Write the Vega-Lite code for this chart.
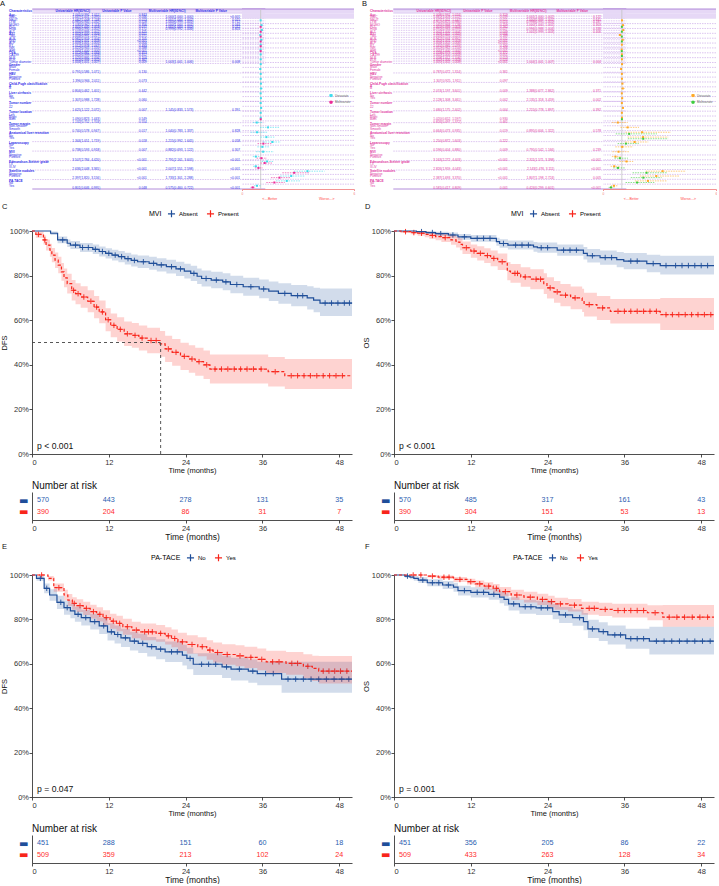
{
"$schema":"https://vega.github.io/schema/vega-lite/v6.json",
"background":"white",
"padding":{"left":0,"top":0,"right":0,"bottom":0},
"config":{"font":"Liberation Sans","view":{"stroke":null},
 "axis":{"grid":false,"domainColor":"#222","tickColor":"#222","labelColor":"#333","titleColor":"#111","titleFontWeight":"normal","domainWidth":0.8,"tickWidth":0.8},
 "title":{"fontWeight":"normal","color":"#111"},
 "legend":{"titleFontWeight":"normal"}},
"resolve":{"scale":{"color":"independent","strokeDash":"independent"},"legend":{"color":"independent"}},
"columns":1,"align":"none","spacing":1,
"datasets":{
"tab":[
{"p":"A","r":1,"k":"h","c":"Characteristics","a":"Univariable HR(95%CI)","b":"Univariable P Value","d":"Multivariable HR(95%CI)","e":"Multivariable P Value"},
{"p":"A","r":2,"k":"h"},
{"p":"A","r":3,"k":"v","l":1,"c":"Age","a":"1.001(0.991, 1.011)","b":"0.843","u":1.001,"ul":0.991,"uh":1.011},
{"p":"A","r":4,"k":"v","l":1,"c":"WBC","a":"1.047(1.001, 1.095)","b":"0.046","d":"1.000(1.000, 1.000)","e":"<0.001","u":1.047,"ul":1.001,"uh":1.095,"m":1.0,"ml":1.0,"mh":1.0},
{"p":"A","r":5,"k":"v","l":1,"c":"NEUT","a":"1.062(1.008, 1.118)","b":"0.023","d":"1.001(1.000, 1.002)","e":"0.015","u":1.062,"ul":1.008,"uh":1.118,"m":1.001,"ml":1.0,"mh":1.002},
{"p":"A","r":6,"k":"v","l":1,"c":"LYM","a":"0.985(0.940, 1.032)","b":"0.528","d":"1.000(0.999, 1.001)","e":"0.712","u":0.985,"ul":0.94,"uh":1.032,"m":1.0,"ml":0.999,"mh":1.001},
{"p":"A","r":7,"k":"v","l":1,"c":"MONO","a":"1.035(0.962, 1.113)","b":"0.356","d":"1.000(1.000, 1.001)","e":"0.044","u":1.035,"ul":0.962,"uh":1.113,"m":1.0,"ml":1.0,"mh":1.001},
{"p":"A","r":8,"k":"v","l":1,"c":"PLT","a":"1.001(1.000, 1.003)","b":"0.077","d":"1.001(1.000, 1.002)","e":"0.112","u":1.001,"ul":1.0,"uh":1.003,"m":1.001,"ml":1.0,"mh":1.002},
{"p":"A","r":9,"k":"v","l":1,"c":"HGB","a":"0.996(0.990, 1.002)","b":"0.172","d":"0.999(0.992, 1.006)","e":"0.803","u":0.996,"ul":0.99,"uh":1.002,"m":0.999,"ml":0.992,"mh":1.006},
{"p":"A","r":10,"k":"v","l":1,"c":"ALT","a":"1.001(0.999, 1.002)","b":"0.425","u":1.001,"ul":0.999,"uh":1.002},
{"p":"A","r":11,"k":"v","l":1,"c":"AST","a":"1.002(1.000, 1.004)","b":"0.021","u":1.002,"ul":1.0,"uh":1.004},
{"p":"A","r":12,"k":"v","l":1,"c":"TBIL","a":"1.004(0.991, 1.017)","b":"0.571","u":1.004,"ul":0.991,"uh":1.017},
{"p":"A","r":13,"k":"v","l":1,"c":"ALB","a":"0.981(0.959, 1.004)","b":"0.105","u":0.981,"ul":0.959,"uh":1.004},
{"p":"A","r":14,"k":"v","l":1,"c":"GGT","a":"1.002(1.001, 1.003)","b":"<0.001","u":1.002,"ul":1.001,"uh":1.003},
{"p":"A","r":15,"k":"v","l":1,"c":"ALP","a":"1.003(1.001, 1.005)","b":"0.004","u":1.003,"ul":1.001,"uh":1.005},
{"p":"A","r":16,"k":"v","l":1,"c":"PT","a":"1.012(0.978, 1.047)","b":"0.493","u":1.012,"ul":0.978,"uh":1.047},
{"p":"A","r":17,"k":"v","l":1,"c":"INR","a":"1.022(0.945, 1.105)","b":"0.588","u":1.022,"ul":0.945,"uh":1.105},
{"p":"A","r":18,"k":"v","l":1,"c":"AFP","a":"1.000(1.000, 1.000)","b":"<0.001","u":1.0,"ul":1.0,"uh":1.0},
{"p":"A","r":19,"k":"v","l":1,"c":"CEA","a":"1.012(0.981, 1.044)","b":"0.453","u":1.012,"ul":0.981,"uh":1.044},
{"p":"A","r":20,"k":"v","l":1,"c":"CA199","a":"1.001(0.999, 1.003)","b":"0.312","u":1.001,"ul":0.999,"uh":1.003},
{"p":"A","r":21,"k":"v","l":1,"c":"NLR","a":"1.025(0.995, 1.056)","b":"0.104","u":1.025,"ul":0.995,"uh":1.056},
{"p":"A","r":22,"k":"v","l":1,"c":"PLR","a":"1.001(0.999, 1.002)","b":"0.367","u":1.001,"ul":0.999,"uh":1.002},
{"p":"A","r":23,"k":"v","l":1,"c":"Tumor diameter","a":"1.004(1.001, 1.007)","b":"0.009","d":"1.003(1.001, 1.006)","e":"0.008","u":1.004,"ul":1.001,"uh":1.007,"m":1.003,"ml":1.001,"mh":1.006},
{"p":"A","r":24,"k":"g","c":"Gender"},
{"p":"A","r":25,"k":"s","c":"Male"},
{"p":"A","r":26,"k":"s","c":"Female"},
{"p":"A","r":27,"k":"x","l":1,"a":"0.791(0.586, 1.071)","b":"0.130","u":0.791,"ul":0.586,"uh":1.071},
{"p":"A","r":28,"k":"g","c":"HBV"},
{"p":"A","r":29,"k":"s","c":"Negative"},
{"p":"A","r":30,"k":"s","c":"Positive"},
{"p":"A","r":31,"k":"x","l":1,"a":"1.396(0.966, 2.011)","b":"0.073","u":1.396,"ul":0.966,"uh":2.011},
{"p":"A","r":32,"k":"g","c":"Child-Pugh classification"},
{"p":"A","r":33,"k":"s","c":"A"},
{"p":"A","r":34,"k":"s","c":"B"},
{"p":"A","r":35,"k":"x","l":1,"a":"0.804(0.462, 1.401)","b":"0.442","u":0.804,"ul":0.462,"uh":1.401},
{"p":"A","r":36,"k":"g","c":"Liver cirrhosis"},
{"p":"A","r":37,"k":"s","c":"No"},
{"p":"A","r":38,"k":"s","c":"Yes"},
{"p":"A","r":39,"k":"x","l":1,"a":"1.307(0.988, 1.728)","b":"0.060","u":1.307,"ul":0.988,"uh":1.728},
{"p":"A","r":40,"k":"g","c":"Tumor number"},
{"p":"A","r":41,"k":"s","c":"1"},
{"p":"A","r":42,"k":"s","c":"≥2"},
{"p":"A","r":43,"k":"x","l":1,"a":"1.625(1.122, 2.072)","b":"0.007","d":"1.145(0.833, 1.573)","e":"0.391","u":1.625,"ul":1.122,"uh":2.072,"m":1.145,"ml":0.833,"mh":1.573},
{"p":"A","r":44,"k":"g","c":"Tumor location"},
{"p":"A","r":45,"k":"s","c":"Left"},
{"p":"A","r":46,"k":"s","c":"Right"},
{"p":"A","r":47,"k":"s","c":"Both","a":"1.090(0.823, 1.443)","b":"0.549","u":1.09,"ul":0.823,"uh":1.443},
{"p":"A","r":48,"k":"x","l":1,"a":"1.132(0.752, 1.703)","b":"0.554","u":1.132,"ul":0.752,"uh":1.703},
{"p":"A","r":49,"k":"g","c":"Tumor margin"},
{"p":"A","r":50,"k":"s","c":"Non-smooth"},
{"p":"A","r":51,"k":"s","c":"Smooth"},
{"p":"A","r":52,"k":"x","l":1,"a":"0.740(0.578, 0.947)","b":"0.017","d":"1.040(0.783, 1.337)","e":"0.828","u":0.74,"ul":0.578,"uh":0.947,"m":1.04,"ml":0.783,"mh":1.337},
{"p":"A","r":53,"k":"g","c":"Anatomical liver resection"},
{"p":"A","r":54,"k":"s","c":"No"},
{"p":"A","r":55,"k":"s","c":"Yes"},
{"p":"A","r":56,"k":"x","l":1,"a":"1.344(1.051, 1.719)","b":"0.018","d":"1.215(0.992, 1.645)","e":"0.058","u":1.344,"ul":1.051,"uh":1.719,"m":1.215,"ml":0.992,"mh":1.645},
{"p":"A","r":57,"k":"g","c":"Laparoscopy"},
{"p":"A","r":58,"k":"s","c":"No"},
{"p":"A","r":59,"k":"s","c":"Yes"},
{"p":"A","r":60,"k":"x","l":1,"a":"0.738(0.593, 0.918)","b":"0.007","d":"0.882(0.693, 1.122)","e":"0.307","u":0.738,"ul":0.593,"uh":0.918,"m":0.882,"ml":0.693,"mh":1.122},
{"p":"A","r":61,"k":"g","c":"MVI"},
{"p":"A","r":62,"k":"s","c":"Negative"},
{"p":"A","r":63,"k":"s","c":"Positive"},
{"p":"A","r":64,"k":"x","l":1,"a":"3.507(2.784, 4.420)","b":"<0.001","d":"2.791(2.161, 3.605)","e":"<0.001","u":3.507,"ul":2.784,"uh":4.42,"m":2.791,"ml":2.161,"mh":3.605},
{"p":"A","r":65,"k":"g","c":"Edmondson-Steiner grade"},
{"p":"A","r":66,"k":"s","c":"I-II"},
{"p":"A","r":67,"k":"s","c":"III-IV"},
{"p":"A","r":68,"k":"x","l":1,"a":"2.636(2.048, 3.365)","b":"<0.001","d":"2.007(1.551, 2.598)","e":"<0.001","u":2.636,"ul":2.048,"uh":3.365,"m":2.007,"ml":1.551,"mh":2.598},
{"p":"A","r":69,"k":"g","c":"Satellite nodules"},
{"p":"A","r":70,"k":"s","c":"Negative"},
{"p":"A","r":71,"k":"s","c":"Positive"},
{"p":"A","r":72,"k":"x","l":1,"a":"2.397(1.820, 3.156)","b":"<0.001","d":"1.733(1.301, 2.288)","e":"<0.001","u":2.397,"ul":1.82,"uh":3.156,"m":1.733,"ml":1.301,"mh":2.288},
{"p":"A","r":73,"k":"g","c":"PA-TACE"},
{"p":"A","r":74,"k":"s","c":"No"},
{"p":"A","r":75,"k":"s","c":"Yes"},
{"p":"A","r":76,"k":"x","a":"0.801(0.646, 0.995)","b":"0.048","d":"0.575(0.460, 0.722)","e":"<0.001","u":0.801,"ul":0.646,"uh":0.995,"m":0.575,"ml":0.46,"mh":0.722},
{"p":"B","r":1,"k":"h","c":"Characteristics","a":"Univariable HR(95%CI)","b":"Univariable P Value","d":"Multivariable HR(95%CI)","e":"Multivariable P Value"},
{"p":"B","r":2,"k":"h"},
{"p":"B","r":3,"k":"v","l":1,"c":"Age","a":"1.008(0.992, 1.024)","b":"0.319","u":1.008,"ul":0.992,"uh":1.024},
{"p":"B","r":4,"k":"v","l":1,"c":"WBC","a":"1.061(1.003, 1.122)","b":"0.039","d":"1.001(1.000, 1.002)","e":"0.122","u":1.061,"ul":1.003,"uh":1.122,"m":1.001,"ml":1.0,"mh":1.002},
{"p":"B","r":5,"k":"v","l":1,"c":"NEUT","a":"1.077(1.011, 1.147)","b":"0.021","d":"1.000(0.999, 1.001)","e":"0.641","u":1.077,"ul":1.011,"uh":1.147,"m":1.0,"ml":0.999,"mh":1.001},
{"p":"B","r":6,"k":"v","l":1,"c":"LYM","a":"0.902(0.825, 0.986)","b":"0.024","d":"0.998(0.995, 1.001)","e":"0.187","u":0.902,"ul":0.825,"uh":0.986,"m":0.998,"ml":0.995,"mh":1.001},
{"p":"B","r":7,"k":"v","l":1,"c":"MONO","a":"1.045(0.968, 1.128)","b":"0.259","d":"1.000(1.000, 1.001)","e":"0.303","u":1.045,"ul":0.968,"uh":1.128,"m":1.0,"ml":1.0,"mh":1.001},
{"p":"B","r":8,"k":"v","l":1,"c":"PLT","a":"1.001(0.999, 1.003)","b":"0.262","u":1.001,"ul":0.999,"uh":1.003},
{"p":"B","r":9,"k":"v","l":1,"c":"HGB","a":"0.991(0.983, 0.999)","b":"0.027","d":"0.996(0.988, 1.004)","e":"0.338","u":0.991,"ul":0.983,"uh":0.999,"m":0.996,"ml":0.988,"mh":1.004},
{"p":"B","r":10,"k":"v","l":1,"c":"ALT","a":"1.002(1.000, 1.004)","b":"0.049","d":"1.001(0.999, 1.003)","e":"0.406","u":1.002,"ul":1.0,"uh":1.004,"m":1.001,"ml":0.999,"mh":1.003},
{"p":"B","r":11,"k":"v","l":1,"c":"AST","a":"1.003(1.001, 1.005)","b":"0.006","u":1.003,"ul":1.001,"uh":1.005},
{"p":"B","r":12,"k":"v","l":1,"c":"TBIL","a":"1.010(0.995, 1.025)","b":"0.189","u":1.01,"ul":0.995,"uh":1.025},
{"p":"B","r":13,"k":"v","l":1,"c":"ALB","a":"0.962(0.934, 0.991)","b":"0.011","u":0.962,"ul":0.934,"uh":0.991},
{"p":"B","r":14,"k":"v","l":1,"c":"GGT","a":"1.002(1.001, 1.003)","b":"<0.001","u":1.002,"ul":1.001,"uh":1.003},
{"p":"B","r":15,"k":"v","l":1,"c":"ALP","a":"1.004(1.002, 1.006)","b":"<0.001","u":1.004,"ul":1.002,"uh":1.006},
{"p":"B","r":16,"k":"v","l":1,"c":"PT","a":"1.031(0.985, 1.079)","b":"0.190","u":1.031,"ul":0.985,"uh":1.079},
{"p":"B","r":17,"k":"v","l":1,"c":"INR","a":"1.052(0.962, 1.150)","b":"0.266","u":1.052,"ul":0.962,"uh":1.15},
{"p":"B","r":18,"k":"v","l":1,"c":"AFP","a":"1.000(1.000, 1.000)","b":"<0.001","u":1.0,"ul":1.0,"uh":1.0},
{"p":"B","r":19,"k":"v","l":1,"c":"CEA","a":"1.018(0.979, 1.058)","b":"0.372","u":1.018,"ul":0.979,"uh":1.058},
{"p":"B","r":20,"k":"v","l":1,"c":"CA199","a":"1.002(1.000, 1.004)","b":"0.051","u":1.002,"ul":1.0,"uh":1.004},
{"p":"B","r":21,"k":"v","l":1,"c":"NLR","a":"1.058(1.012, 1.106)","b":"0.013","u":1.058,"ul":1.012,"uh":1.106},
{"p":"B","r":22,"k":"v","l":1,"c":"PLR","a":"1.002(1.000, 1.003)","b":"0.020","u":1.002,"ul":1.0,"uh":1.003},
{"p":"B","r":23,"k":"v","l":1,"c":"Tumor diameter","a":"1.005(1.002, 1.008)","b":"<0.001","d":"1.004(1.001, 1.007)","e":"0.004","u":1.005,"ul":1.002,"uh":1.008,"m":1.004,"ml":1.001,"mh":1.007},
{"p":"B","r":24,"k":"g","c":"Gender"},
{"p":"B","r":25,"k":"s","c":"Male"},
{"p":"B","r":26,"k":"s","c":"Female"},
{"p":"B","r":27,"k":"x","l":1,"a":"0.787(0.472, 1.314)","b":"0.361","u":0.787,"ul":0.472,"uh":1.314},
{"p":"B","r":28,"k":"g","c":"HBV"},
{"p":"B","r":29,"k":"s","c":"Negative"},
{"p":"B","r":30,"k":"s","c":"Positive"},
{"p":"B","r":31,"k":"x","l":1,"a":"1.307(0.925, 1.911)","b":"0.097","u":1.307,"ul":0.925,"uh":1.911},
{"p":"B","r":32,"k":"g","c":"Child-Pugh classification"},
{"p":"B","r":33,"k":"s","c":"A"},
{"p":"B","r":34,"k":"s","c":"B"},
{"p":"B","r":35,"k":"x","l":1,"a":"2.074(1.197, 3.601)","b":"0.009","d":"1.388(0.677, 2.862)","e":"0.371","u":2.074,"ul":1.197,"uh":3.601,"m":1.388,"ml":0.677,"mh":2.862},
{"p":"B","r":36,"k":"g","c":"Liver cirrhosis"},
{"p":"B","r":37,"k":"s","c":"No"},
{"p":"B","r":38,"k":"s","c":"Yes"},
{"p":"B","r":39,"k":"x","l":1,"a":"2.128(1.308, 3.461)","b":"0.002","d":"2.135(1.318, 3.459)","e":"0.002","u":2.128,"ul":1.308,"uh":3.461,"m":2.135,"ml":1.318,"mh":3.459},
{"p":"B","r":40,"k":"g","c":"Tumor number"},
{"p":"B","r":41,"k":"s","c":"1"},
{"p":"B","r":42,"k":"s","c":"≥2"},
{"p":"B","r":43,"k":"x","l":1,"a":"1.680(1.175, 2.402)","b":"0.004","d":"1.215(0.778, 1.897)","e":"0.392","u":1.68,"ul":1.175,"uh":2.402,"m":1.215,"ml":0.778,"mh":1.897},
{"p":"B","r":44,"k":"g","c":"Tumor location"},
{"p":"B","r":45,"k":"s","c":"Left"},
{"p":"B","r":46,"k":"s","c":"Right"},
{"p":"B","r":47,"k":"s","c":"Both","a":"1.020(0.652, 1.597)","b":"0.930","u":1.02,"ul":0.652,"uh":1.597},
{"p":"B","r":48,"k":"x","l":1,"a":"0.826(0.497, 1.372)","b":"0.461","u":0.826,"ul":0.497,"uh":1.372},
{"p":"B","r":49,"k":"g","c":"Tumor margin"},
{"p":"B","r":50,"k":"s","c":"Non-smooth"},
{"p":"B","r":51,"k":"s","c":"Smooth"},
{"p":"B","r":52,"k":"x","l":1,"a":"0.664(0.473, 0.935)","b":"0.019","d":"0.895(0.606, 1.322)","e":"0.578","u":0.664,"ul":0.473,"uh":0.935,"m":0.895,"ml":0.606,"mh":1.322},
{"p":"B","r":53,"k":"g","c":"Anatomical liver resection"},
{"p":"B","r":54,"k":"s","c":"No"},
{"p":"B","r":55,"k":"s","c":"Yes"},
{"p":"B","r":56,"k":"x","l":1,"a":"1.250(0.872, 1.603)","b":"0.222","u":1.25,"ul":0.872,"uh":1.603},
{"p":"B","r":57,"k":"g","c":"Laparoscopy"},
{"p":"B","r":58,"k":"s","c":"No"},
{"p":"B","r":59,"k":"s","c":"Yes"},
{"p":"B","r":60,"k":"x","l":1,"a":"0.596(0.404, 0.880)","b":"0.009","d":"0.795(0.542, 1.166)","e":"0.239","u":0.596,"ul":0.404,"uh":0.88,"m":0.795,"ml":0.542,"mh":1.166},
{"p":"B","r":61,"k":"g","c":"MVI"},
{"p":"B","r":62,"k":"s","c":"Negative"},
{"p":"B","r":63,"k":"s","c":"Positive"},
{"p":"B","r":64,"k":"x","l":1,"a":"3.163(2.272, 4.403)","b":"<0.001","d":"2.311(1.571, 3.398)","e":"<0.001","u":3.163,"ul":2.272,"uh":4.403,"m":2.311,"ml":1.571,"mh":3.398},
{"p":"B","r":65,"k":"g","c":"Edmondson-Steiner grade"},
{"p":"B","r":66,"k":"s","c":"I-II"},
{"p":"B","r":67,"k":"s","c":"III-IV"},
{"p":"B","r":68,"k":"x","l":1,"a":"2.826(1.959, 4.043)","b":"<0.001","d":"2.143(1.476, 3.111)","e":"<0.001","u":2.826,"ul":1.959,"uh":4.043,"m":2.143,"ml":1.476,"mh":3.111},
{"p":"B","r":69,"k":"g","c":"Satellite nodules"},
{"p":"B","r":70,"k":"s","c":"Negative"},
{"p":"B","r":71,"k":"s","c":"Positive"},
{"p":"B","r":72,"k":"x","l":1,"a":"2.387(1.693, 3.370)","b":"<0.001","d":"1.807(1.198, 2.724)","e":"0.005","u":2.387,"ul":1.693,"uh":3.37,"m":1.807,"ml":1.198,"mh":2.724},
{"p":"B","r":73,"k":"g","c":"PA-TACE"},
{"p":"B","r":74,"k":"s","c":"No"},
{"p":"B","r":75,"k":"s","c":"Yes"},
{"p":"B","r":76,"k":"x","a":"0.581(0.417, 0.809)","b":"0.001","d":"0.424(0.299, 0.601)","e":"<0.001","u":0.581,"ul":0.417,"uh":0.809,"m":0.424,"ml":0.299,"mh":0.601}
],
"km":[
{"p":"C","g":"Absent","t":0,"s":1,"lo":1,"hi":1},
{"p":"C","g":"Absent","t":2.9,"s":0.99,"lo":0.982,"hi":0.998},
{"p":"C","g":"Absent","t":4.0,"s":0.96,"lo":0.945,"hi":0.975},
{"p":"C","g":"Absent","t":5.5,"s":0.945,"lo":0.928,"hi":0.962},
{"p":"C","g":"Absent","t":6.0,"s":0.937,"lo":0.919,"hi":0.955},
{"p":"C","g":"Absent","t":7.5,"s":0.926,"lo":0.906,"hi":0.946},
{"p":"C","g":"Absent","t":9.5,"s":0.918,"lo":0.897,"hi":0.939},
{"p":"C","g":"Absent","t":10.5,"s":0.908,"lo":0.886,"hi":0.93},
{"p":"C","g":"Absent","t":11.5,"s":0.9,"lo":0.877,"hi":0.923},
{"p":"C","g":"Absent","t":12.5,"s":0.892,"lo":0.868,"hi":0.916},
{"p":"C","g":"Absent","t":13.5,"s":0.885,"lo":0.86,"hi":0.91},
{"p":"C","g":"Absent","t":14.5,"s":0.876,"lo":0.85,"hi":0.902},
{"p":"C","g":"Absent","t":15.5,"s":0.868,"lo":0.841,"hi":0.895},
{"p":"C","g":"Absent","t":16.5,"s":0.862,"lo":0.834,"hi":0.89},
{"p":"C","g":"Absent","t":18.3,"s":0.855,"lo":0.826,"hi":0.884},
{"p":"C","g":"Absent","t":19.5,"s":0.848,"lo":0.818,"hi":0.878},
{"p":"C","g":"Absent","t":21.0,"s":0.84,"lo":0.809,"hi":0.871},
{"p":"C","g":"Absent","t":22.5,"s":0.83,"lo":0.798,"hi":0.862},
{"p":"C","g":"Absent","t":23.8,"s":0.82,"lo":0.787,"hi":0.853},
{"p":"C","g":"Absent","t":24.8,"s":0.81,"lo":0.776,"hi":0.844},
{"p":"C","g":"Absent","t":25.8,"s":0.797,"lo":0.762,"hi":0.832},
{"p":"C","g":"Absent","t":26.5,"s":0.787,"lo":0.751,"hi":0.823},
{"p":"C","g":"Absent","t":28.0,"s":0.78,"lo":0.743,"hi":0.817},
{"p":"C","g":"Absent","t":29.8,"s":0.772,"lo":0.734,"hi":0.81},
{"p":"C","g":"Absent","t":31.0,"s":0.76,"lo":0.721,"hi":0.799},
{"p":"C","g":"Absent","t":33.0,"s":0.75,"lo":0.71,"hi":0.79},
{"p":"C","g":"Absent","t":35.5,"s":0.74,"lo":0.698,"hi":0.782},
{"p":"C","g":"Absent","t":37.0,"s":0.73,"lo":0.686,"hi":0.774},
{"p":"C","g":"Absent","t":38.5,"s":0.72,"lo":0.674,"hi":0.766},
{"p":"C","g":"Absent","t":40.5,"s":0.71,"lo":0.662,"hi":0.758},
{"p":"C","g":"Absent","t":43.0,"s":0.7,"lo":0.648,"hi":0.752},
{"p":"C","g":"Absent","t":44.0,"s":0.69,"lo":0.636,"hi":0.746},
{"p":"C","g":"Absent","t":45.0,"s":0.677,"lo":0.619,"hi":0.742},
{"p":"C","g":"Absent","t":50,"s":0.677,"lo":0.619,"hi":0.742},
{"p":"C","g":"Present","t":0,"s":1,"lo":1,"hi":1},
{"p":"C","g":"Present","t":0.6,"s":0.985,"lo":0.97,"hi":0.998},
{"p":"C","g":"Present","t":1.8,"s":0.96,"lo":0.94,"hi":0.98},
{"p":"C","g":"Present","t":2.2,"s":0.937,"lo":0.912,"hi":0.962},
{"p":"C","g":"Present","t":2.8,"s":0.914,"lo":0.885,"hi":0.943},
{"p":"C","g":"Present","t":3.1,"s":0.892,"lo":0.86,"hi":0.924},
{"p":"C","g":"Present","t":3.6,"s":0.869,"lo":0.834,"hi":0.904},
{"p":"C","g":"Present","t":4.1,"s":0.847,"lo":0.81,"hi":0.884},
{"p":"C","g":"Present","t":4.6,"s":0.817,"lo":0.777,"hi":0.857},
{"p":"C","g":"Present","t":5.0,"s":0.79,"lo":0.748,"hi":0.832},
{"p":"C","g":"Present","t":5.5,"s":0.764,"lo":0.72,"hi":0.808},
{"p":"C","g":"Present","t":6.2,"s":0.734,"lo":0.688,"hi":0.78},
{"p":"C","g":"Present","t":6.8,"s":0.719,"lo":0.672,"hi":0.766},
{"p":"C","g":"Present","t":7.6,"s":0.704,"lo":0.656,"hi":0.752},
{"p":"C","g":"Present","t":8.7,"s":0.685,"lo":0.636,"hi":0.734},
{"p":"C","g":"Present","t":9.7,"s":0.659,"lo":0.609,"hi":0.709},
{"p":"C","g":"Present","t":10.5,"s":0.637,"lo":0.586,"hi":0.688},
{"p":"C","g":"Present","t":11.5,"s":0.602,"lo":0.55,"hi":0.654},
{"p":"C","g":"Present","t":12.3,"s":0.577,"lo":0.524,"hi":0.63},
{"p":"C","g":"Present","t":13.3,"s":0.559,"lo":0.505,"hi":0.613},
{"p":"C","g":"Present","t":14.4,"s":0.539,"lo":0.484,"hi":0.594},
{"p":"C","g":"Present","t":15.6,"s":0.532,"lo":0.477,"hi":0.587},
{"p":"C","g":"Present","t":16.7,"s":0.52,"lo":0.464,"hi":0.576},
{"p":"C","g":"Present","t":18.0,"s":0.509,"lo":0.452,"hi":0.566},
{"p":"C","g":"Present","t":20.0,"s":0.494,"lo":0.436,"hi":0.552},
{"p":"C","g":"Present","t":20.8,"s":0.471,"lo":0.412,"hi":0.53},
{"p":"C","g":"Present","t":21.9,"s":0.456,"lo":0.396,"hi":0.516},
{"p":"C","g":"Present","t":23.2,"s":0.438,"lo":0.377,"hi":0.499},
{"p":"C","g":"Present","t":24.5,"s":0.426,"lo":0.364,"hi":0.488},
{"p":"C","g":"Present","t":25.5,"s":0.414,"lo":0.351,"hi":0.477},
{"p":"C","g":"Present","t":26.8,"s":0.4,"lo":0.336,"hi":0.464},
{"p":"C","g":"Present","t":27.8,"s":0.381,"lo":0.316,"hi":0.446},
{"p":"C","g":"Present","t":36.9,"s":0.369,"lo":0.303,"hi":0.435},
{"p":"C","g":"Present","t":39.5,"s":0.351,"lo":0.291,"hi":0.426},
{"p":"C","g":"Present","t":50,"s":0.351,"lo":0.291,"hi":0.426},
{"p":"D","g":"Absent","t":0,"s":1,"lo":1,"hi":1},
{"p":"D","g":"Absent","t":3.5,"s":0.997,"lo":0.992,"hi":1},
{"p":"D","g":"Absent","t":5,"s":0.993,"lo":0.986,"hi":1},
{"p":"D","g":"Absent","t":6.5,"s":0.988,"lo":0.979,"hi":0.997},
{"p":"D","g":"Absent","t":8.5,"s":0.982,"lo":0.971,"hi":0.993},
{"p":"D","g":"Absent","t":10,"s":0.974,"lo":0.961,"hi":0.987},
{"p":"D","g":"Absent","t":12,"s":0.967,"lo":0.952,"hi":0.982},
{"p":"D","g":"Absent","t":16,"s":0.952,"lo":0.934,"hi":0.97},
{"p":"D","g":"Absent","t":16.5,"s":0.944,"lo":0.925,"hi":0.963},
{"p":"D","g":"Absent","t":17.8,"s":0.937,"lo":0.917,"hi":0.957},
{"p":"D","g":"Absent","t":21.8,"s":0.929,"lo":0.907,"hi":0.951},
{"p":"D","g":"Absent","t":22.4,"s":0.925,"lo":0.902,"hi":0.948},
{"p":"D","g":"Absent","t":25.5,"s":0.914,"lo":0.889,"hi":0.939},
{"p":"D","g":"Absent","t":29.6,"s":0.9,"lo":0.872,"hi":0.928},
{"p":"D","g":"Absent","t":30.2,"s":0.889,"lo":0.859,"hi":0.919},
{"p":"D","g":"Absent","t":32.2,"s":0.881,"lo":0.849,"hi":0.913},
{"p":"D","g":"Absent","t":34.8,"s":0.872,"lo":0.838,"hi":0.906},
{"p":"D","g":"Absent","t":35.9,"s":0.865,"lo":0.829,"hi":0.901},
{"p":"D","g":"Absent","t":39.5,"s":0.854,"lo":0.815,"hi":0.893},
{"p":"D","g":"Absent","t":41.6,"s":0.845,"lo":0.805,"hi":0.889},
{"p":"D","g":"Absent","t":50,"s":0.845,"lo":0.805,"hi":0.889},
{"p":"D","g":"Present","t":0,"s":1,"lo":1,"hi":1},
{"p":"D","g":"Present","t":1.1,"s":0.997,"lo":0.991,"hi":1},
{"p":"D","g":"Present","t":2.6,"s":0.993,"lo":0.985,"hi":1},
{"p":"D","g":"Present","t":3.7,"s":0.99,"lo":0.979,"hi":1},
{"p":"D","g":"Present","t":4.8,"s":0.985,"lo":0.972,"hi":0.998},
{"p":"D","g":"Present","t":5.5,"s":0.98,"lo":0.965,"hi":0.995},
{"p":"D","g":"Present","t":6.5,"s":0.975,"lo":0.958,"hi":0.992},
{"p":"D","g":"Present","t":7.4,"s":0.97,"lo":0.951,"hi":0.989},
{"p":"D","g":"Present","t":8.9,"s":0.96,"lo":0.938,"hi":0.982},
{"p":"D","g":"Present","t":9.7,"s":0.95,"lo":0.926,"hi":0.974},
{"p":"D","g":"Present","t":10.3,"s":0.94,"lo":0.914,"hi":0.966},
{"p":"D","g":"Present","t":10.7,"s":0.925,"lo":0.897,"hi":0.953},
{"p":"D","g":"Present","t":12,"s":0.91,"lo":0.88,"hi":0.94},
{"p":"D","g":"Present","t":13,"s":0.9,"lo":0.868,"hi":0.932},
{"p":"D","g":"Present","t":14.1,"s":0.89,"lo":0.857,"hi":0.923},
{"p":"D","g":"Present","t":15.1,"s":0.877,"lo":0.842,"hi":0.912},
{"p":"D","g":"Present","t":16.2,"s":0.862,"lo":0.825,"hi":0.899},
{"p":"D","g":"Present","t":17.7,"s":0.82,"lo":0.779,"hi":0.861},
{"p":"D","g":"Present","t":18.2,"s":0.81,"lo":0.768,"hi":0.852},
{"p":"D","g":"Present","t":19.8,"s":0.794,"lo":0.75,"hi":0.838},
{"p":"D","g":"Present","t":21.3,"s":0.784,"lo":0.739,"hi":0.829},
{"p":"D","g":"Present","t":23.4,"s":0.764,"lo":0.717,"hi":0.811},
{"p":"D","g":"Present","t":23.9,"s":0.745,"lo":0.697,"hi":0.793},
{"p":"D","g":"Present","t":25,"s":0.727,"lo":0.678,"hi":0.776},
{"p":"D","g":"Present","t":26,"s":0.712,"lo":0.662,"hi":0.762},
{"p":"D","g":"Present","t":27.6,"s":0.7,"lo":0.649,"hi":0.751},
{"p":"D","g":"Present","t":29.4,"s":0.689,"lo":0.637,"hi":0.741},
{"p":"D","g":"Present","t":29.7,"s":0.67,"lo":0.617,"hi":0.723},
{"p":"D","g":"Present","t":31.7,"s":0.655,"lo":0.601,"hi":0.709},
{"p":"D","g":"Present","t":33.8,"s":0.64,"lo":0.585,"hi":0.695},
{"p":"D","g":"Present","t":41.6,"s":0.625,"lo":0.556,"hi":0.7},
{"p":"D","g":"Present","t":50,"s":0.625,"lo":0.556,"hi":0.7},
{"p":"E","g":"No","t":0,"s":1,"lo":1,"hi":1},
{"p":"E","g":"No","t":0.7,"s":0.985,"lo":0.974,"hi":0.996},
{"p":"E","g":"No","t":1.9,"s":0.94,"lo":0.918,"hi":0.962},
{"p":"E","g":"No","t":2.75,"s":0.91,"lo":0.884,"hi":0.936},
{"p":"E","g":"No","t":3.9,"s":0.877,"lo":0.847,"hi":0.907},
{"p":"E","g":"No","t":5.0,"s":0.853,"lo":0.821,"hi":0.885},
{"p":"E","g":"No","t":6.0,"s":0.838,"lo":0.805,"hi":0.871},
{"p":"E","g":"No","t":6.7,"s":0.823,"lo":0.789,"hi":0.857},
{"p":"E","g":"No","t":7.7,"s":0.808,"lo":0.773,"hi":0.843},
{"p":"E","g":"No","t":9.1,"s":0.79,"lo":0.754,"hi":0.826},
{"p":"E","g":"No","t":10.5,"s":0.771,"lo":0.734,"hi":0.808},
{"p":"E","g":"No","t":11.8,"s":0.744,"lo":0.705,"hi":0.783},
{"p":"E","g":"No","t":12.9,"s":0.732,"lo":0.692,"hi":0.772},
{"p":"E","g":"No","t":13.9,"s":0.717,"lo":0.676,"hi":0.758},
{"p":"E","g":"No","t":15.3,"s":0.702,"lo":0.66,"hi":0.744},
{"p":"E","g":"No","t":16.6,"s":0.692,"lo":0.649,"hi":0.735},
{"p":"E","g":"No","t":18.0,"s":0.677,"lo":0.633,"hi":0.721},
{"p":"E","g":"No","t":19.4,"s":0.666,"lo":0.621,"hi":0.711},
{"p":"E","g":"No","t":20.8,"s":0.654,"lo":0.608,"hi":0.7},
{"p":"E","g":"No","t":23.5,"s":0.639,"lo":0.592,"hi":0.686},
{"p":"E","g":"No","t":24.2,"s":0.624,"lo":0.576,"hi":0.672},
{"p":"E","g":"No","t":25.2,"s":0.598,"lo":0.549,"hi":0.647},
{"p":"E","g":"No","t":29.7,"s":0.586,"lo":0.536,"hi":0.636},
{"p":"E","g":"No","t":31.1,"s":0.576,"lo":0.525,"hi":0.627},
{"p":"E","g":"No","t":33.8,"s":0.567,"lo":0.515,"hi":0.619},
{"p":"E","g":"No","t":35.2,"s":0.556,"lo":0.503,"hi":0.609},
{"p":"E","g":"No","t":39.0,"s":0.531,"lo":0.47,"hi":0.609},
{"p":"E","g":"No","t":50,"s":0.531,"lo":0.47,"hi":0.609},
{"p":"E","g":"Yes","t":0,"s":1,"lo":1,"hi":1},
{"p":"E","g":"Yes","t":2.5,"s":0.985,"lo":0.975,"hi":0.995},
{"p":"E","g":"Yes","t":3.4,"s":0.943,"lo":0.924,"hi":0.962},
{"p":"E","g":"Yes","t":5.0,"s":0.91,"lo":0.886,"hi":0.934},
{"p":"E","g":"Yes","t":5.6,"s":0.887,"lo":0.86,"hi":0.914},
{"p":"E","g":"Yes","t":6.3,"s":0.872,"lo":0.844,"hi":0.9},
{"p":"E","g":"Yes","t":7.0,"s":0.862,"lo":0.833,"hi":0.891},
{"p":"E","g":"Yes","t":8.0,"s":0.85,"lo":0.82,"hi":0.88},
{"p":"E","g":"Yes","t":9.1,"s":0.835,"lo":0.804,"hi":0.866},
{"p":"E","g":"Yes","t":10.1,"s":0.823,"lo":0.791,"hi":0.855},
{"p":"E","g":"Yes","t":11.1,"s":0.808,"lo":0.775,"hi":0.841},
{"p":"E","g":"Yes","t":12.2,"s":0.792,"lo":0.758,"hi":0.826},
{"p":"E","g":"Yes","t":13.2,"s":0.782,"lo":0.747,"hi":0.817},
{"p":"E","g":"Yes","t":14.2,"s":0.767,"lo":0.731,"hi":0.803},
{"p":"E","g":"Yes","t":15.6,"s":0.752,"lo":0.715,"hi":0.789},
{"p":"E","g":"Yes","t":17.0,"s":0.744,"lo":0.706,"hi":0.782},
{"p":"E","g":"Yes","t":19.4,"s":0.737,"lo":0.699,"hi":0.775},
{"p":"E","g":"Yes","t":20.8,"s":0.726,"lo":0.687,"hi":0.765},
{"p":"E","g":"Yes","t":21.8,"s":0.714,"lo":0.674,"hi":0.754},
{"p":"E","g":"Yes","t":22.8,"s":0.699,"lo":0.658,"hi":0.74},
{"p":"E","g":"Yes","t":24.2,"s":0.687,"lo":0.645,"hi":0.729},
{"p":"E","g":"Yes","t":25.9,"s":0.677,"lo":0.634,"hi":0.72},
{"p":"E","g":"Yes","t":27.3,"s":0.662,"lo":0.618,"hi":0.706},
{"p":"E","g":"Yes","t":28.3,"s":0.651,"lo":0.606,"hi":0.696},
{"p":"E","g":"Yes","t":29.7,"s":0.642,"lo":0.596,"hi":0.688},
{"p":"E","g":"Yes","t":31.8,"s":0.636,"lo":0.589,"hi":0.683},
{"p":"E","g":"Yes","t":33.2,"s":0.629,"lo":0.581,"hi":0.677},
{"p":"E","g":"Yes","t":35.2,"s":0.62,"lo":0.571,"hi":0.669},
{"p":"E","g":"Yes","t":36.6,"s":0.609,"lo":0.559,"hi":0.659},
{"p":"E","g":"Yes","t":39.7,"s":0.602,"lo":0.551,"hi":0.653},
{"p":"E","g":"Yes","t":42.4,"s":0.589,"lo":0.535,"hi":0.643},
{"p":"E","g":"Yes","t":43.8,"s":0.579,"lo":0.522,"hi":0.636},
{"p":"E","g":"Yes","t":44.8,"s":0.567,"lo":0.511,"hi":0.635},
{"p":"E","g":"Yes","t":50,"s":0.567,"lo":0.511,"hi":0.635},
{"p":"F","g":"No","t":0,"s":1,"lo":1,"hi":1},
{"p":"F","g":"No","t":1.7,"s":0.995,"lo":0.988,"hi":1},
{"p":"F","g":"No","t":2.5,"s":0.99,"lo":0.981,"hi":0.999},
{"p":"F","g":"No","t":3.1,"s":0.985,"lo":0.974,"hi":0.996},
{"p":"F","g":"No","t":3.8,"s":0.977,"lo":0.964,"hi":0.99},
{"p":"F","g":"No","t":5.2,"s":0.965,"lo":0.949,"hi":0.981},
{"p":"F","g":"No","t":7.6,"s":0.955,"lo":0.937,"hi":0.973},
{"p":"F","g":"No","t":9.3,"s":0.945,"lo":0.925,"hi":0.965},
{"p":"F","g":"No","t":10,"s":0.93,"lo":0.908,"hi":0.952},
{"p":"F","g":"No","t":12,"s":0.922,"lo":0.899,"hi":0.945},
{"p":"F","g":"No","t":14.8,"s":0.913,"lo":0.888,"hi":0.938},
{"p":"F","g":"No","t":16.5,"s":0.9,"lo":0.873,"hi":0.927},
{"p":"F","g":"No","t":17.2,"s":0.89,"lo":0.862,"hi":0.918},
{"p":"F","g":"No","t":17.9,"s":0.87,"lo":0.84,"hi":0.9},
{"p":"F","g":"No","t":19.6,"s":0.857,"lo":0.826,"hi":0.888},
{"p":"F","g":"No","t":22.2,"s":0.852,"lo":0.82,"hi":0.884},
{"p":"F","g":"No","t":24.8,"s":0.835,"lo":0.801,"hi":0.869},
{"p":"F","g":"No","t":25.8,"s":0.82,"lo":0.784,"hi":0.856},
{"p":"F","g":"No","t":27.9,"s":0.808,"lo":0.771,"hi":0.845},
{"p":"F","g":"No","t":29.6,"s":0.79,"lo":0.751,"hi":0.829},
{"p":"F","g":"No","t":30.3,"s":0.757,"lo":0.716,"hi":0.798},
{"p":"F","g":"No","t":32,"s":0.745,"lo":0.703,"hi":0.787},
{"p":"F","g":"No","t":33.4,"s":0.73,"lo":0.687,"hi":0.773},
{"p":"F","g":"No","t":36.2,"s":0.713,"lo":0.668,"hi":0.758},
{"p":"F","g":"No","t":39.9,"s":0.702,"lo":0.642,"hi":0.767},
{"p":"F","g":"No","t":50,"s":0.702,"lo":0.642,"hi":0.767},
{"p":"F","g":"Yes","t":0,"s":1,"lo":1,"hi":1},
{"p":"F","g":"Yes","t":5.2,"s":0.995,"lo":0.989,"hi":1},
{"p":"F","g":"Yes","t":6.9,"s":0.99,"lo":0.982,"hi":0.998},
{"p":"F","g":"Yes","t":9.3,"s":0.98,"lo":0.969,"hi":0.991},
{"p":"F","g":"Yes","t":11.4,"s":0.97,"lo":0.957,"hi":0.983},
{"p":"F","g":"Yes","t":12.7,"s":0.96,"lo":0.945,"hi":0.975},
{"p":"F","g":"Yes","t":14.1,"s":0.95,"lo":0.933,"hi":0.967},
{"p":"F","g":"Yes","t":15.5,"s":0.94,"lo":0.921,"hi":0.959},
{"p":"F","g":"Yes","t":16.5,"s":0.925,"lo":0.904,"hi":0.946},
{"p":"F","g":"Yes","t":18.3,"s":0.91,"lo":0.887,"hi":0.933},
{"p":"F","g":"Yes","t":20.3,"s":0.9,"lo":0.876,"hi":0.924},
{"p":"F","g":"Yes","t":22.4,"s":0.89,"lo":0.865,"hi":0.915},
{"p":"F","g":"Yes","t":24.1,"s":0.88,"lo":0.854,"hi":0.906},
{"p":"F","g":"Yes","t":25.1,"s":0.87,"lo":0.843,"hi":0.897},
{"p":"F","g":"Yes","t":27.2,"s":0.864,"lo":0.836,"hi":0.892},
{"p":"F","g":"Yes","t":29.3,"s":0.85,"lo":0.821,"hi":0.879},
{"p":"F","g":"Yes","t":32,"s":0.845,"lo":0.815,"hi":0.875},
{"p":"F","g":"Yes","t":34.1,"s":0.84,"lo":0.809,"hi":0.871},
{"p":"F","g":"Yes","t":39.6,"s":0.83,"lo":0.796,"hi":0.864},
{"p":"F","g":"Yes","t":42,"s":0.81,"lo":0.767,"hi":0.865},
{"p":"F","g":"Yes","t":50,"s":0.81,"lo":0.767,"hi":0.865}
],
"cen":[
{"p":"C","g":"Absent","t":4.8,"s":0.96},{"p":"C","g":"Absent","t":6.8,"s":0.937},{"p":"C","g":"Absent","t":7.9,"s":0.926},{"p":"C","g":"Absent","t":8.8,"s":0.926},{"p":"C","g":"Absent","t":9.9,"s":0.918},{"p":"C","g":"Absent","t":11.0,"s":0.908},{"p":"C","g":"Absent","t":12.0,"s":0.9},{"p":"C","g":"Absent","t":13.0,"s":0.892},{"p":"C","g":"Absent","t":14.0,"s":0.885},{"p":"C","g":"Absent","t":15.0,"s":0.876},{"p":"C","g":"Absent","t":16.0,"s":0.868},{"p":"C","g":"Absent","t":17.4,"s":0.862},{"p":"C","g":"Absent","t":19.0,"s":0.855},{"p":"C","g":"Absent","t":20.2,"s":0.848},{"p":"C","g":"Absent","t":21.8,"s":0.84},{"p":"C","g":"Absent","t":23.2,"s":0.83},{"p":"C","g":"Absent","t":25.3,"s":0.81},{"p":"C","g":"Absent","t":27.2,"s":0.787},{"p":"C","g":"Absent","t":28.8,"s":0.78},{"p":"C","g":"Absent","t":30.3,"s":0.772},{"p":"C","g":"Absent","t":32.0,"s":0.76},{"p":"C","g":"Absent","t":34.2,"s":0.75},{"p":"C","g":"Absent","t":36.2,"s":0.74},{"p":"C","g":"Absent","t":39.5,"s":0.72},{"p":"C","g":"Absent","t":41.5,"s":0.71},{"p":"C","g":"Absent","t":42.3,"s":0.71},{"p":"C","g":"Absent","t":45.8,"s":0.677},{"p":"C","g":"Absent","t":46.8,"s":0.677},{"p":"C","g":"Absent","t":47.8,"s":0.677},{"p":"C","g":"Absent","t":48.8,"s":0.677},{"p":"C","g":"Absent","t":49.6,"s":0.677},
{"p":"C","g":"Present","t":1.0,"s":0.985},{"p":"C","g":"Present","t":2.0,"s":0.96},{"p":"C","g":"Present","t":6.5,"s":0.734},{"p":"C","g":"Present","t":7.2,"s":0.719},{"p":"C","g":"Present","t":8.1,"s":0.704},{"p":"C","g":"Present","t":9.2,"s":0.685},{"p":"C","g":"Present","t":10.1,"s":0.659},{"p":"C","g":"Present","t":11.0,"s":0.637},{"p":"C","g":"Present","t":11.9,"s":0.602},{"p":"C","g":"Present","t":12.8,"s":0.577},{"p":"C","g":"Present","t":13.8,"s":0.559},{"p":"C","g":"Present","t":14.9,"s":0.539},{"p":"C","g":"Present","t":16.1,"s":0.532},{"p":"C","g":"Present","t":17.2,"s":0.52},{"p":"C","g":"Present","t":18.6,"s":0.509},{"p":"C","g":"Present","t":19.4,"s":0.509},{"p":"C","g":"Present","t":21.3,"s":0.471},{"p":"C","g":"Present","t":22.5,"s":0.456},{"p":"C","g":"Present","t":23.8,"s":0.438},{"p":"C","g":"Present","t":25.0,"s":0.426},{"p":"C","g":"Present","t":26.1,"s":0.414},{"p":"C","g":"Present","t":27.3,"s":0.4},{"p":"C","g":"Present","t":28.6,"s":0.381},{"p":"C","g":"Present","t":29.6,"s":0.381},{"p":"C","g":"Present","t":30.6,"s":0.381},{"p":"C","g":"Present","t":31.6,"s":0.381},{"p":"C","g":"Present","t":32.6,"s":0.381},{"p":"C","g":"Present","t":33.6,"s":0.381},{"p":"C","g":"Present","t":34.6,"s":0.381},{"p":"C","g":"Present","t":35.8,"s":0.381},{"p":"C","g":"Present","t":38.0,"s":0.369},{"p":"C","g":"Present","t":40.5,"s":0.351},{"p":"C","g":"Present","t":41.5,"s":0.351},{"p":"C","g":"Present","t":42.5,"s":0.351},{"p":"C","g":"Present","t":43.5,"s":0.351},{"p":"C","g":"Present","t":44.5,"s":0.351},{"p":"C","g":"Present","t":45.5,"s":0.351},{"p":"C","g":"Present","t":46.5,"s":0.351},{"p":"C","g":"Present","t":47.5,"s":0.351},{"p":"C","g":"Present","t":48.5,"s":0.351},
{"p":"D","g":"Absent","t":4.3,"s":0.997},{"p":"D","g":"Absent","t":6,"s":0.993},{"p":"D","g":"Absent","t":7.3,"s":0.988},{"p":"D","g":"Absent","t":9.2,"s":0.982},{"p":"D","g":"Absent","t":11,"s":0.974},{"p":"D","g":"Absent","t":13,"s":0.967},{"p":"D","g":"Absent","t":14,"s":0.967},{"p":"D","g":"Absent","t":15,"s":0.967},{"p":"D","g":"Absent","t":17.1,"s":0.944},{"p":"D","g":"Absent","t":19,"s":0.937},{"p":"D","g":"Absent","t":20,"s":0.937},{"p":"D","g":"Absent","t":21,"s":0.937},{"p":"D","g":"Absent","t":23,"s":0.925},{"p":"D","g":"Absent","t":24,"s":0.925},{"p":"D","g":"Absent","t":26.5,"s":0.914},{"p":"D","g":"Absent","t":27.5,"s":0.914},{"p":"D","g":"Absent","t":28.5,"s":0.914},{"p":"D","g":"Absent","t":31,"s":0.889},{"p":"D","g":"Absent","t":33,"s":0.881},{"p":"D","g":"Absent","t":34,"s":0.881},{"p":"D","g":"Absent","t":37,"s":0.865},{"p":"D","g":"Absent","t":38,"s":0.865},{"p":"D","g":"Absent","t":40.5,"s":0.854},{"p":"D","g":"Absent","t":42.5,"s":0.845},{"p":"D","g":"Absent","t":44,"s":0.845},{"p":"D","g":"Absent","t":45,"s":0.845},{"p":"D","g":"Absent","t":46,"s":0.845},{"p":"D","g":"Absent","t":47,"s":0.845},{"p":"D","g":"Absent","t":48,"s":0.845},{"p":"D","g":"Absent","t":49,"s":0.845},
{"p":"D","g":"Present","t":1.8,"s":0.997},{"p":"D","g":"Present","t":3.1,"s":0.993},{"p":"D","g":"Present","t":4.3,"s":0.99},{"p":"D","g":"Present","t":6,"s":0.98},{"p":"D","g":"Present","t":8,"s":0.97},{"p":"D","g":"Present","t":11.3,"s":0.925},{"p":"D","g":"Present","t":12.5,"s":0.91},{"p":"D","g":"Present","t":13.5,"s":0.9},{"p":"D","g":"Present","t":14.6,"s":0.89},{"p":"D","g":"Present","t":15.6,"s":0.877},{"p":"D","g":"Present","t":16.9,"s":0.862},{"p":"D","g":"Present","t":18.9,"s":0.81},{"p":"D","g":"Present","t":19.3,"s":0.81},{"p":"D","g":"Present","t":20.5,"s":0.794},{"p":"D","g":"Present","t":22.2,"s":0.784},{"p":"D","g":"Present","t":22.9,"s":0.784},{"p":"D","g":"Present","t":24.4,"s":0.745},{"p":"D","g":"Present","t":25.5,"s":0.727},{"p":"D","g":"Present","t":26.8,"s":0.712},{"p":"D","g":"Present","t":28.3,"s":0.7},{"p":"D","g":"Present","t":30.5,"s":0.67},{"p":"D","g":"Present","t":32.6,"s":0.655},{"p":"D","g":"Present","t":35,"s":0.64},{"p":"D","g":"Present","t":36,"s":0.64},{"p":"D","g":"Present","t":37,"s":0.64},{"p":"D","g":"Present","t":38,"s":0.64},{"p":"D","g":"Present","t":39,"s":0.64},{"p":"D","g":"Present","t":40,"s":0.64},{"p":"D","g":"Present","t":41,"s":0.64},{"p":"D","g":"Present","t":42.5,"s":0.625},{"p":"D","g":"Present","t":43.5,"s":0.625},{"p":"D","g":"Present","t":44.5,"s":0.625},{"p":"D","g":"Present","t":45.5,"s":0.625},{"p":"D","g":"Present","t":46.5,"s":0.625},{"p":"D","g":"Present","t":47.5,"s":0.625},{"p":"D","g":"Present","t":48.5,"s":0.625},{"p":"D","g":"Present","t":49.5,"s":0.625},
{"p":"E","g":"No","t":1.3,"s":0.985},{"p":"E","g":"No","t":2.3,"s":0.94},{"p":"E","g":"No","t":4.5,"s":0.877},{"p":"E","g":"No","t":5.5,"s":0.853},{"p":"E","g":"No","t":7.2,"s":0.823},{"p":"E","g":"No","t":8.4,"s":0.808},{"p":"E","g":"No","t":9.8,"s":0.79},{"p":"E","g":"No","t":11.2,"s":0.771},{"p":"E","g":"No","t":12.4,"s":0.744},{"p":"E","g":"No","t":13.4,"s":0.732},{"p":"E","g":"No","t":14.6,"s":0.717},{"p":"E","g":"No","t":16,"s":0.702},{"p":"E","g":"No","t":17.3,"s":0.692},{"p":"E","g":"No","t":18.7,"s":0.677},{"p":"E","g":"No","t":20.1,"s":0.666},{"p":"E","g":"No","t":21.8,"s":0.654},{"p":"E","g":"No","t":22.7,"s":0.654},{"p":"E","g":"No","t":24.7,"s":0.624},{"p":"E","g":"No","t":26.5,"s":0.598},{"p":"E","g":"No","t":27.6,"s":0.598},{"p":"E","g":"No","t":28.7,"s":0.598},{"p":"E","g":"No","t":30.4,"s":0.586},{"p":"E","g":"No","t":32.4,"s":0.576},{"p":"E","g":"No","t":34.5,"s":0.567},{"p":"E","g":"No","t":36.5,"s":0.556},{"p":"E","g":"No","t":37.7,"s":0.556},{"p":"E","g":"No","t":40,"s":0.531},{"p":"E","g":"No","t":41.2,"s":0.531},{"p":"E","g":"No","t":42.4,"s":0.531},{"p":"E","g":"No","t":43.6,"s":0.531},{"p":"E","g":"No","t":44.8,"s":0.531},{"p":"E","g":"No","t":46,"s":0.531},{"p":"E","g":"No","t":47.2,"s":0.531},{"p":"E","g":"No","t":48.4,"s":0.531},{"p":"E","g":"No","t":49.5,"s":0.531},
{"p":"E","g":"Yes","t":1.5,"s":1},{"p":"E","g":"Yes","t":4.2,"s":0.943},{"p":"E","g":"Yes","t":6.6,"s":0.872},{"p":"E","g":"Yes","t":7.5,"s":0.862},{"p":"E","g":"Yes","t":8.5,"s":0.85},{"p":"E","g":"Yes","t":9.6,"s":0.835},{"p":"E","g":"Yes","t":10.6,"s":0.823},{"p":"E","g":"Yes","t":11.6,"s":0.808},{"p":"E","g":"Yes","t":12.7,"s":0.792},{"p":"E","g":"Yes","t":13.7,"s":0.782},{"p":"E","g":"Yes","t":14.9,"s":0.767},{"p":"E","g":"Yes","t":16.3,"s":0.752},{"p":"E","g":"Yes","t":17.6,"s":0.744},{"p":"E","g":"Yes","t":18.2,"s":0.744},{"p":"E","g":"Yes","t":18.8,"s":0.744},{"p":"E","g":"Yes","t":20.1,"s":0.737},{"p":"E","g":"Yes","t":21.3,"s":0.726},{"p":"E","g":"Yes","t":22.3,"s":0.714},{"p":"E","g":"Yes","t":23.5,"s":0.699},{"p":"E","g":"Yes","t":25,"s":0.687},{"p":"E","g":"Yes","t":26.6,"s":0.677},{"p":"E","g":"Yes","t":27.8,"s":0.662},{"p":"E","g":"Yes","t":29,"s":0.651},{"p":"E","g":"Yes","t":30.5,"s":0.642},{"p":"E","g":"Yes","t":32.5,"s":0.636},{"p":"E","g":"Yes","t":34.2,"s":0.629},{"p":"E","g":"Yes","t":35.9,"s":0.62},{"p":"E","g":"Yes","t":37.6,"s":0.609},{"p":"E","g":"Yes","t":38.6,"s":0.609},{"p":"E","g":"Yes","t":40.6,"s":0.602},{"p":"E","g":"Yes","t":41.5,"s":0.602},{"p":"E","g":"Yes","t":43.1,"s":0.589},{"p":"E","g":"Yes","t":45.5,"s":0.567},{"p":"E","g":"Yes","t":46.4,"s":0.567},{"p":"E","g":"Yes","t":47.3,"s":0.567},{"p":"E","g":"Yes","t":48.2,"s":0.567},{"p":"E","g":"Yes","t":49.2,"s":0.567},
{"p":"F","g":"No","t":2.1,"s":0.995},{"p":"F","g":"No","t":4.5,"s":0.977},{"p":"F","g":"No","t":6,"s":0.965},{"p":"F","g":"No","t":7,"s":0.965},{"p":"F","g":"No","t":8.5,"s":0.955},{"p":"F","g":"No","t":11,"s":0.93},{"p":"F","g":"No","t":13,"s":0.922},{"p":"F","g":"No","t":14,"s":0.922},{"p":"F","g":"No","t":15.6,"s":0.913},{"p":"F","g":"No","t":18.7,"s":0.87},{"p":"F","g":"No","t":20.5,"s":0.857},{"p":"F","g":"No","t":21.4,"s":0.857},{"p":"F","g":"No","t":23,"s":0.852},{"p":"F","g":"No","t":24,"s":0.852},{"p":"F","g":"No","t":26.8,"s":0.82},{"p":"F","g":"No","t":29,"s":0.808},{"p":"F","g":"No","t":31,"s":0.757},{"p":"F","g":"No","t":32.7,"s":0.745},{"p":"F","g":"No","t":34.5,"s":0.73},{"p":"F","g":"No","t":35.4,"s":0.73},{"p":"F","g":"No","t":37,"s":0.713},{"p":"F","g":"No","t":38,"s":0.713},{"p":"F","g":"No","t":39,"s":0.713},{"p":"F","g":"No","t":41,"s":0.702},{"p":"F","g":"No","t":42.2,"s":0.702},{"p":"F","g":"No","t":43.4,"s":0.702},{"p":"F","g":"No","t":44.6,"s":0.702},{"p":"F","g":"No","t":45.8,"s":0.702},{"p":"F","g":"No","t":47,"s":0.702},{"p":"F","g":"No","t":48.2,"s":0.702},{"p":"F","g":"No","t":49.4,"s":0.702},
{"p":"F","g":"Yes","t":3,"s":1},{"p":"F","g":"Yes","t":4.2,"s":1},{"p":"F","g":"Yes","t":6,"s":0.995},{"p":"F","g":"Yes","t":7.8,"s":0.99},{"p":"F","g":"Yes","t":8.6,"s":0.99},{"p":"F","g":"Yes","t":10.3,"s":0.98},{"p":"F","g":"Yes","t":12,"s":0.97},{"p":"F","g":"Yes","t":13.4,"s":0.96},{"p":"F","g":"Yes","t":14.8,"s":0.95},{"p":"F","g":"Yes","t":16,"s":0.94},{"p":"F","g":"Yes","t":17.4,"s":0.925},{"p":"F","g":"Yes","t":19.2,"s":0.91},{"p":"F","g":"Yes","t":21.3,"s":0.9},{"p":"F","g":"Yes","t":23.2,"s":0.89},{"p":"F","g":"Yes","t":24.6,"s":0.88},{"p":"F","g":"Yes","t":26,"s":0.87},{"p":"F","g":"Yes","t":28.2,"s":0.864},{"p":"F","g":"Yes","t":30.5,"s":0.85},{"p":"F","g":"Yes","t":31.3,"s":0.85},{"p":"F","g":"Yes","t":33,"s":0.845},{"p":"F","g":"Yes","t":35,"s":0.84},{"p":"F","g":"Yes","t":36,"s":0.84},{"p":"F","g":"Yes","t":37,"s":0.84},{"p":"F","g":"Yes","t":38,"s":0.84},{"p":"F","g":"Yes","t":39,"s":0.84},{"p":"F","g":"Yes","t":40.8,"s":0.83},{"p":"F","g":"Yes","t":43,"s":0.81},{"p":"F","g":"Yes","t":44.2,"s":0.81},{"p":"F","g":"Yes","t":45.4,"s":0.81},{"p":"F","g":"Yes","t":46.6,"s":0.81},{"p":"F","g":"Yes","t":47.8,"s":0.81},{"p":"F","g":"Yes","t":49,"s":0.81}
],
"risk":[
{"p":"C","g":"Absent","t":0,"n":570},{"p":"C","g":"Absent","t":12,"n":443},{"p":"C","g":"Absent","t":24,"n":278},{"p":"C","g":"Absent","t":36,"n":131},{"p":"C","g":"Absent","t":48,"n":35},
{"p":"C","g":"Present","t":0,"n":390},{"p":"C","g":"Present","t":12,"n":204},{"p":"C","g":"Present","t":24,"n":86},{"p":"C","g":"Present","t":36,"n":31},{"p":"C","g":"Present","t":48,"n":7},
{"p":"D","g":"Absent","t":0,"n":570},{"p":"D","g":"Absent","t":12,"n":485},{"p":"D","g":"Absent","t":24,"n":317},{"p":"D","g":"Absent","t":36,"n":161},{"p":"D","g":"Absent","t":48,"n":43},
{"p":"D","g":"Present","t":0,"n":390},{"p":"D","g":"Present","t":12,"n":304},{"p":"D","g":"Present","t":24,"n":151},{"p":"D","g":"Present","t":36,"n":53},{"p":"D","g":"Present","t":48,"n":13},
{"p":"E","g":"No","t":0,"n":451},{"p":"E","g":"No","t":12,"n":288},{"p":"E","g":"No","t":24,"n":151},{"p":"E","g":"No","t":36,"n":60},{"p":"E","g":"No","t":48,"n":18},
{"p":"E","g":"Yes","t":0,"n":509},{"p":"E","g":"Yes","t":12,"n":359},{"p":"E","g":"Yes","t":24,"n":213},{"p":"E","g":"Yes","t":36,"n":102},{"p":"E","g":"Yes","t":48,"n":24},
{"p":"F","g":"No","t":0,"n":451},{"p":"F","g":"No","t":12,"n":356},{"p":"F","g":"No","t":24,"n":205},{"p":"F","g":"No","t":36,"n":86},{"p":"F","g":"No","t":48,"n":22},
{"p":"F","g":"Yes","t":0,"n":509},{"p":"F","g":"Yes","t":12,"n":433},{"p":"F","g":"Yes","t":24,"n":263},{"p":"F","g":"Yes","t":36,"n":128},{"p":"F","g":"Yes","t":48,"n":34}
]
},
"concat":[
{"hconcat":[
 {"hconcat":[
  {"width":210,"height":180,
   "title":{"text":"A","anchor":"start","frame":"group","dx":-32,"offset":-5.3,"fontSize":7.5,"baseline":"alphabetic"},
   "data":{"name":"tab"},"transform":[{"filter":"datum.p=='A'"}],
   "layer":[
    {"transform":[{"filter":"datum.k=='h'"}],"mark":{"type":"rect","color":"#e6d8f6"},"encoding":{"x":{"datum":"c","type":"nominal","scale":{"type":"band","domain":["c","a","b","d","e","z"],"range":[-23,256.6],"paddingInner":0,"paddingOuter":0},"axis":null},"x2":{"datum":"z"},"y":{"field":"r","type":"ordinal","axis":null,"scale":{"paddingInner":0,"paddingOuter":0}}}},
    {"transform":[{"filter":"datum.l==1"}],"mark":{"type":"rule","color":"#b98ae0","strokeWidth":0.5,"strokeDash":[1.5,1]},"encoding":{"x":{"datum":"c","type":"nominal"},"x2":{"datum":"z"},"y":{"field":"r","type":"ordinal","bandPosition":1,"axis":null}}},
    {"transform":[{"filter":"datum.r==76"}],"mark":{"type":"rule","color":"#a070d0","strokeWidth":0.8},"encoding":{"x":{"datum":"c","type":"nominal"},"x2":{"datum":"z"},"y":{"field":"r","type":"ordinal","bandPosition":1,"axis":null}}},
    {"transform":[{"filter":"datum.r==1"}],"mark":{"type":"rule","color":"#a070d0","strokeWidth":0.8},"encoding":{"x":{"datum":"c","type":"nominal"},"x2":{"datum":"z"},"y":{"field":"r","type":"ordinal","bandPosition":0,"axis":null}}},
    {"transform":[{"filter":"datum.r==1"},{"fold":["c","a","b","d","e"],"as":["col","txt"]}],"mark":{"type":"text","align":"left","baseline":"middle","fontSize":3.2,"fontWeight":"bold","color":"#2a2ae8"},"encoding":{"x":{"field":"col","type":"nominal","bandPosition":0},"y":{"field":"r","type":"ordinal","bandPosition":1,"axis":null},"text":{"field":"txt"}}},
    {"transform":[{"filter":"datum.k=='v' || datum.k=='s'"},{"fold":["c"],"as":["col","txt"]}],"mark":{"type":"text","align":"left","baseline":"middle","fontSize":3.2,"color":"#2a2ae8"},"encoding":{"x":{"field":"col","type":"nominal","bandPosition":0},"y":{"field":"r","type":"ordinal","axis":null},"text":{"field":"txt"}}},
    {"transform":[{"filter":"datum.k=='g'"},{"fold":["c"],"as":["col","txt"]}],"mark":{"type":"text","align":"left","baseline":"middle","fontSize":3.2,"fontWeight":"bold","color":"#2a2ae8"},"encoding":{"x":{"field":"col","type":"nominal","bandPosition":0},"y":{"field":"r","type":"ordinal","axis":null},"text":{"field":"txt"}}},
    {"transform":[{"filter":"datum.r>2"},{"fold":["a","b","d","e"],"as":["col","txt"]},{"filter":"datum.txt"}],"mark":{"type":"text","align":"right","baseline":"middle","fontSize":3.2,"dx":-2,"color":"#2a2ae8"},"encoding":{"x":{"field":"col","type":"nominal","bandPosition":1},"y":{"field":"r","type":"ordinal","axis":null},"text":{"field":"txt"}}}
   ]},
  {"width":112,"height":180,
   "data":{"name":"tab"},"transform":[{"filter":"datum.p=='A'"}],
   "layer":[
    {"transform":[{"filter":"datum.k=='h'"}],"mark":{"type":"rect","color":"#e6d8f6"},"encoding":{"y":{"field":"r","type":"ordinal","axis":null,"scale":{"paddingInner":0,"paddingOuter":0}}}},
    {"transform":[{"filter":"datum.l==1"}],"mark":{"type":"rule","color":"#b98ae0","strokeWidth":0.5,"strokeDash":[1.5,1]},"encoding":{"y":{"field":"r","type":"ordinal","bandPosition":1,"axis":null}}},
    {"transform":[{"filter":"datum.r==1"}],"mark":{"type":"rule","color":"#a070d0","strokeWidth":0.8},"encoding":{"y":{"field":"r","type":"ordinal","bandPosition":0,"axis":null}}},
    {"data":{"values":[{"v":1}]},"transform":[],"mark":{"type":"rule","color":"#c4c4c4","strokeWidth":0.8},"encoding":{"x":{"field":"v","type":"quantitative","scale":{"domain":[0,6],"nice":false},"axis":{"values":[0,0.5,1,1.5,2,2.5,3,3.5,4,4.5,5,5.5,6],"labelFontSize":3.2,"labelColor":"#f07878","domainColor":"#f07878","tickColor":"#f07878","tickSize":1.5,"labelPadding":1,"labelOverlap":false,"labelFlush":false,"title":"<---Better\u00a0\u00a0\u00a0\u00a0\u00a0\u00a0\u00a0\u00a0\u00a0\u00a0\u00a0\u00a0\u00a0\u00a0\u00a0\u00a0\u00a0\u00a0\u00a0\u00a0\u00a0\u00a0\u00a0\u00a0\u00a0\u00a0\u00a0\u00a0\u00a0\u00a0\u00a0\u00a0\u00a0\u00a0\u00a0\u00a0\u00a0\u00a0\u00a0\u00a0\u00a0\u00a0\u00a0Worse--->","titleFontSize":3.5,"titleColor":"#ff4a4a","titlePadding":2,"titleFontWeight":"normal"}}}},
    {"transform":[{"filter":"isValid(datum.u)"}],"mark":{"type":"point","shape":"square","filled":true,"size":4,"opacity":1,"yOffset":-0.8},"encoding":{"x":{"field":"u","type":"quantitative"},"y":{"field":"r","type":"ordinal","axis":null},"color":{"datum":"Univariate","scale":{"domain":["Univariate","Multivariate"],"range":["#3fdcec","#ec2c98"]},"legend":{"title":null,"orient":"none","legendX":87,"legendY":85,"labelFontSize":3,"symbolSize":5,"symbolType":"square","rowPadding":2.6,"clipHeight":3,"labelColor":"#666","symbolStrokeWidth":1,"symbolOpacity":1,"labelOffset":2}}}},
    {"transform":[{"filter":"isValid(datum.m)"}],"mark":{"type":"point","shape":"square","filled":true,"size":4,"opacity":1,"yOffset":0.8},"encoding":{"x":{"field":"m","type":"quantitative"},"y":{"field":"r","type":"ordinal","axis":null},"color":{"datum":"Multivariate"}}},
    {"transform":[{"filter":"isValid(datum.u)"}],"mark":{"type":"rule","strokeWidth":0.6,"strokeDash":[1.5,1],"yOffset":-0.8},"encoding":{"x":{"field":"ul","type":"quantitative"},"x2":{"field":"uh"},"y":{"field":"r","type":"ordinal","axis":null},"color":{"datum":"Univariate"}}},
    {"transform":[{"filter":"isValid(datum.m)"}],"mark":{"type":"rule","strokeWidth":0.6,"strokeDash":[1.5,1],"yOffset":0.8},"encoding":{"x":{"field":"ml","type":"quantitative"},"x2":{"field":"mh"},"y":{"field":"r","type":"ordinal","axis":null},"color":{"datum":"Multivariate"}}}
   ]}
 ],"spacing":0.01,"bounds":"flush","resolve":{"scale":{"color":"independent"},"legend":{"color":"independent"}}},
 {"hconcat":[
  {"width":210,"height":180,
   "title":{"text":"B","anchor":"start","frame":"group","dx":-31,"offset":-5.3,"fontSize":7.5,"baseline":"alphabetic"},
   "data":{"name":"tab"},"transform":[{"filter":"datum.p=='B'"}],
   "layer":[
    {"transform":[{"filter":"datum.k=='h'"}],"mark":{"type":"rect","color":"#e6d8f6"},"encoding":{"x":{"datum":"c","type":"nominal","scale":{"type":"band","domain":["c","a","b","d","e","z"],"range":[-23,256.6],"paddingInner":0,"paddingOuter":0},"axis":null},"x2":{"datum":"z"},"y":{"field":"r","type":"ordinal","axis":null,"scale":{"paddingInner":0,"paddingOuter":0}}}},
    {"transform":[{"filter":"datum.l==1"}],"mark":{"type":"rule","color":"#b98ae0","strokeWidth":0.5,"strokeDash":[1.5,1]},"encoding":{"x":{"datum":"c","type":"nominal"},"x2":{"datum":"z"},"y":{"field":"r","type":"ordinal","bandPosition":1,"axis":null}}},
    {"transform":[{"filter":"datum.r==76"}],"mark":{"type":"rule","color":"#a070d0","strokeWidth":0.8},"encoding":{"x":{"datum":"c","type":"nominal"},"x2":{"datum":"z"},"y":{"field":"r","type":"ordinal","bandPosition":1,"axis":null}}},
    {"transform":[{"filter":"datum.r==1"}],"mark":{"type":"rule","color":"#a070d0","strokeWidth":0.8},"encoding":{"x":{"datum":"c","type":"nominal"},"x2":{"datum":"z"},"y":{"field":"r","type":"ordinal","bandPosition":0,"axis":null}}},
    {"transform":[{"filter":"datum.r==1"},{"fold":["c","a","b","d","e"],"as":["col","txt"]}],"mark":{"type":"text","align":"left","baseline":"middle","fontSize":3.2,"fontWeight":"bold","color":"#e0359e"},"encoding":{"x":{"field":"col","type":"nominal","bandPosition":0},"y":{"field":"r","type":"ordinal","bandPosition":1,"axis":null},"text":{"field":"txt"}}},
    {"transform":[{"filter":"datum.k=='v' || datum.k=='s'"},{"fold":["c"],"as":["col","txt"]}],"mark":{"type":"text","align":"left","baseline":"middle","fontSize":3.2,"color":"#e0359e"},"encoding":{"x":{"field":"col","type":"nominal","bandPosition":0},"y":{"field":"r","type":"ordinal","axis":null},"text":{"field":"txt"}}},
    {"transform":[{"filter":"datum.k=='g'"},{"fold":["c"],"as":["col","txt"]}],"mark":{"type":"text","align":"left","baseline":"middle","fontSize":3.2,"fontWeight":"bold","color":"#e0359e"},"encoding":{"x":{"field":"col","type":"nominal","bandPosition":0},"y":{"field":"r","type":"ordinal","axis":null},"text":{"field":"txt"}}},
    {"transform":[{"filter":"datum.r>2"},{"fold":["a","b","d","e"],"as":["col","txt"]},{"filter":"datum.txt"}],"mark":{"type":"text","align":"right","baseline":"middle","fontSize":3.2,"dx":-2,"color":"#e0359e"},"encoding":{"x":{"field":"col","type":"nominal","bandPosition":1},"y":{"field":"r","type":"ordinal","axis":null},"text":{"field":"txt"}}}
   ]},
  {"width":113,"height":180,
   "data":{"name":"tab"},"transform":[{"filter":"datum.p=='B'"}],
   "layer":[
    {"transform":[{"filter":"datum.k=='h'"}],"mark":{"type":"rect","color":"#e6d8f6"},"encoding":{"y":{"field":"r","type":"ordinal","axis":null,"scale":{"paddingInner":0,"paddingOuter":0}}}},
    {"transform":[{"filter":"datum.l==1"}],"mark":{"type":"rule","color":"#b98ae0","strokeWidth":0.5,"strokeDash":[1.5,1]},"encoding":{"y":{"field":"r","type":"ordinal","bandPosition":1,"axis":null}}},
    {"transform":[{"filter":"datum.r==1"}],"mark":{"type":"rule","color":"#a070d0","strokeWidth":0.8},"encoding":{"y":{"field":"r","type":"ordinal","bandPosition":0,"axis":null}}},
    {"data":{"values":[{"v":1}]},"transform":[],"mark":{"type":"rule","color":"#c4c4c4","strokeWidth":0.8},"encoding":{"x":{"field":"v","type":"quantitative","scale":{"domain":[0,6],"nice":false},"axis":{"values":[0,0.5,1,1.5,2,2.5,3,3.5,4,4.5,5,5.5,6],"labelFontSize":3.2,"labelColor":"#f07878","domainColor":"#f07878","tickColor":"#f07878","tickSize":1.5,"labelPadding":1,"labelOverlap":false,"labelFlush":false,"title":"<---Better\u00a0\u00a0\u00a0\u00a0\u00a0\u00a0\u00a0\u00a0\u00a0\u00a0\u00a0\u00a0\u00a0\u00a0\u00a0\u00a0\u00a0\u00a0\u00a0\u00a0\u00a0\u00a0\u00a0\u00a0\u00a0\u00a0\u00a0\u00a0\u00a0\u00a0\u00a0\u00a0\u00a0\u00a0\u00a0\u00a0\u00a0\u00a0\u00a0\u00a0\u00a0\u00a0\u00a0Worse--->","titleFontSize":3.5,"titleColor":"#ff4a4a","titlePadding":2,"titleFontWeight":"normal"}}}},
    {"transform":[{"filter":"isValid(datum.u)"}],"mark":{"type":"point","shape":"square","filled":true,"size":4,"opacity":1,"yOffset":-0.8},"encoding":{"x":{"field":"u","type":"quantitative"},"y":{"field":"r","type":"ordinal","axis":null},"color":{"datum":"Univariate","scale":{"domain":["Univariate","Multivariate"],"range":["#ffa826","#3fcc3f"]},"legend":{"title":null,"orient":"none","legendX":88,"legendY":85,"labelFontSize":3,"symbolSize":5,"symbolType":"square","rowPadding":2.6,"clipHeight":3,"labelColor":"#666","symbolStrokeWidth":1,"symbolOpacity":1,"labelOffset":2}}}},
    {"transform":[{"filter":"isValid(datum.m)"}],"mark":{"type":"point","shape":"square","filled":true,"size":4,"opacity":1,"yOffset":0.8},"encoding":{"x":{"field":"m","type":"quantitative"},"y":{"field":"r","type":"ordinal","axis":null},"color":{"datum":"Multivariate"}}},
    {"transform":[{"filter":"isValid(datum.u)"}],"mark":{"type":"rule","strokeWidth":0.6,"strokeDash":[1.5,1],"yOffset":-0.8},"encoding":{"x":{"field":"ul","type":"quantitative"},"x2":{"field":"uh"},"y":{"field":"r","type":"ordinal","axis":null},"color":{"datum":"Univariate"}}},
    {"transform":[{"filter":"isValid(datum.m)"}],"mark":{"type":"rule","strokeWidth":0.6,"strokeDash":[1.5,1],"yOffset":0.8},"encoding":{"x":{"field":"ml","type":"quantitative"},"x2":{"field":"mh"},"y":{"field":"r","type":"ordinal","axis":null},"color":{"datum":"Multivariate"}}}
   ]}
 ],"spacing":0.01,"bounds":"flush","resolve":{"scale":{"color":"independent"},"legend":{"color":"independent"}}}
],"spacing":7,"resolve":{"scale":{"color":"independent"},"legend":{"color":"independent"}}},
{"hconcat":[
 {"vconcat":[
  {"width":320,"height":223,
   "title":{"text":"C","anchor":"start","frame":"group","dx":-30,"offset":-7,"fontSize":7.5,"baseline":"alphabetic"},
   "layer":[
    {"data":{"name":"cen"},"transform":[{"filter":"datum.p=='C'"}],"mark":{"type":"point","shape":"M-1,0H1M0,-1V1","size":30,"strokeWidth":0.9,"filled":false,"opacity":1},
     "encoding":{"x":{"field":"t","type":"quantitative","scale":{"domain":[0,50],"nice":false},"axis":{"values":[0,12,24,36,48],"title":"Time (months)","labelFontSize":7.5,"titleFontSize":7.5,"tickSize":3,"labelPadding":1,"titlePadding":1}},"y":{"field":"s","type":"quantitative","scale":{"domain":[0,1],"nice":false},"axis":{"values":[0,0.2,0.4,0.6,0.8,1],"format":".0%","title":"DFS","labelFontSize":7.5,"titleFontSize":7.5,"tickSize":3,"labelPadding":0.5,"titlePadding":0.5}},"color":{"field":"g","type":"nominal","scale":{"domain":["Absent","Present"],"range":["#1f4e99","#f8251b"]},"legend":{"title":"MVI","orient":"none","legendX":117,"legendY":-22,"direction":"horizontal","titleOrient":"left","symbolType":"M-1,0H1M0,-1V1","symbolSize":50,"symbolStrokeWidth":1.2,"symbolOpacity":1,"labelFontSize":6,"titleFontSize":7,"columnPadding":6,"titlePadding":5,"labelOffset":3}}}},
    {"data":{"name":"km"},"transform":[{"filter":"datum.p=='C'"}],"mark":{"type":"area","interpolate":"step-after","opacity":0.2},
     "encoding":{"x":{"field":"t","type":"quantitative"},"y":{"field":"lo","type":"quantitative"},"y2":{"field":"hi"},"color":{"field":"g","type":"nominal"}}},
    {"data":{"name":"km"},"transform":[{"filter":"datum.p=='C'"}],"mark":{"type":"line","interpolate":"step-after","strokeWidth":1.2},
     "encoding":{"x":{"field":"t","type":"quantitative"},"y":{"field":"s","type":"quantitative"},"color":{"field":"g","type":"nominal"},"strokeDash":{"field":"g","type":"nominal","scale":{"domain":["Absent","Present"],"range":[[1,0],[3,2]]},"legend":null}}},
    {"data":{"values":[{"t0":0,"t1":20.1,"s0":0.5}]},"mark":{"type":"rule","strokeDash":[3,3],"color":"#444","strokeWidth":0.9},"encoding":{"x":{"field":"t0","type":"quantitative"},"x2":{"field":"t1"},"y":{"field":"s0","type":"quantitative"}}},
    {"data":{"values":[{"t0":20.1,"s0":0,"s1":0.5}]},"mark":{"type":"rule","strokeDash":[3,3],"color":"#444","strokeWidth":0.9},"encoding":{"x":{"field":"t0","type":"quantitative"},"y":{"field":"s0","type":"quantitative"},"y2":{"field":"s1"}}},
    {"data":{"values":[{"t":0.8,"s":0.035,"lab":"p < 0.001"}]},"mark":{"type":"text","align":"left","baseline":"middle","fontSize":8.6,"color":"#111"},"encoding":{"x":{"field":"t","type":"quantitative"},"y":{"field":"s","type":"quantitative"},"text":{"field":"lab"}}}
   ]},
  {"width":320,"height":28,
   "title":{"text":"Number at risk","anchor":"start","frame":"group","fontSize":10,"offset":1},
   "data":{"name":"risk"},"transform":[{"filter":"datum.p=='C'"}],
   "encoding":{"x":{"field":"t","type":"quantitative","scale":{"domain":[0,50],"nice":false},"axis":{"values":[0,12,24,36,48],"title":"Time (months)","labelFontSize":7.5,"titleFontSize":8.5,"tickSize":3,"labelPadding":1,"titlePadding":1}},
    "y":{"field":"g","type":"nominal","scale":{"type":"point","domain":["Absent","Present"],"padding":0.67},"axis":{"title":null,"ticks":false,"labelExpr":"'▬'","labelFont":"DejaVu Sans","labelFontSize":10,"labelPadding":4,"labelColor":{"condition":{"test":"datum.value=='Absent'","value":"#1f4e99"},"value":"#f8251b"}}},
    "text":{"field":"n","type":"quantitative"},
    "color":{"field":"g","type":"nominal","scale":{"domain":["Absent","Present"],"range":["#2a5db0","#ff2b2b"]},"legend":null}},
   "layer":[
    {"transform":[{"filter":"datum.t>0"}],"mark":{"type":"text","fontSize":7.2}},
    {"transform":[{"filter":"datum.t==0"}],"mark":{"type":"text","fontSize":7.2,"align":"left","dx":5}}
   ]}
 ],"spacing":38,"bounds":"flush","resolve":{"scale":{"color":"independent"},"legend":{"color":"independent"}}},
 {"vconcat":[
  {"width":320,"height":223,
   "title":{"text":"D","anchor":"start","frame":"group","dx":-29,"offset":-7,"fontSize":7.5,"baseline":"alphabetic"},
   "layer":[
    {"data":{"name":"cen"},"transform":[{"filter":"datum.p=='D'"}],"mark":{"type":"point","shape":"M-1,0H1M0,-1V1","size":30,"strokeWidth":0.9,"filled":false,"opacity":1},
     "encoding":{"x":{"field":"t","type":"quantitative","scale":{"domain":[0,50],"nice":false},"axis":{"values":[0,12,24,36,48],"title":"Time (months)","labelFontSize":7.5,"titleFontSize":7.5,"tickSize":3,"labelPadding":1,"titlePadding":1}},"y":{"field":"s","type":"quantitative","scale":{"domain":[0,1],"nice":false},"axis":{"values":[0,0.2,0.4,0.6,0.8,1],"format":".0%","title":"OS","labelFontSize":7.5,"titleFontSize":7.5,"tickSize":3,"labelPadding":0.5,"titlePadding":0.5}},"color":{"field":"g","type":"nominal","scale":{"domain":["Absent","Present"],"range":["#1f4e99","#f8251b"]},"legend":{"title":"MVI","orient":"none","legendX":117,"legendY":-22,"direction":"horizontal","titleOrient":"left","symbolType":"M-1,0H1M0,-1V1","symbolSize":50,"symbolStrokeWidth":1.2,"symbolOpacity":1,"labelFontSize":6,"titleFontSize":7,"columnPadding":6,"titlePadding":5,"labelOffset":3}}}},
    {"data":{"name":"km"},"transform":[{"filter":"datum.p=='D'"}],"mark":{"type":"area","interpolate":"step-after","opacity":0.2},
     "encoding":{"x":{"field":"t","type":"quantitative"},"y":{"field":"lo","type":"quantitative"},"y2":{"field":"hi"},"color":{"field":"g","type":"nominal"}}},
    {"data":{"name":"km"},"transform":[{"filter":"datum.p=='D'"}],"mark":{"type":"line","interpolate":"step-after","strokeWidth":1.2},
     "encoding":{"x":{"field":"t","type":"quantitative"},"y":{"field":"s","type":"quantitative"},"color":{"field":"g","type":"nominal"},"strokeDash":{"field":"g","type":"nominal","scale":{"domain":["Absent","Present"],"range":[[1,0],[3,2]]},"legend":null}}},
    {"data":{"values":[{"t":0.8,"s":0.035,"lab":"p < 0.001"}]},"mark":{"type":"text","align":"left","baseline":"middle","fontSize":8.6,"color":"#111"},"encoding":{"x":{"field":"t","type":"quantitative"},"y":{"field":"s","type":"quantitative"},"text":{"field":"lab"}}}
   ]},
  {"width":320,"height":28,
   "title":{"text":"Number at risk","anchor":"start","frame":"group","fontSize":10,"offset":1},
   "data":{"name":"risk"},"transform":[{"filter":"datum.p=='D'"}],
   "encoding":{"x":{"field":"t","type":"quantitative","scale":{"domain":[0,50],"nice":false},"axis":{"values":[0,12,24,36,48],"title":"Time (months)","labelFontSize":7.5,"titleFontSize":8.5,"tickSize":3,"labelPadding":1,"titlePadding":1}},
    "y":{"field":"g","type":"nominal","scale":{"type":"point","domain":["Absent","Present"],"padding":0.67},"axis":{"title":null,"ticks":false,"labelExpr":"'▬'","labelFont":"DejaVu Sans","labelFontSize":10,"labelPadding":4,"labelColor":{"condition":{"test":"datum.value=='Absent'","value":"#1f4e99"},"value":"#f8251b"}}},
    "text":{"field":"n","type":"quantitative"},
    "color":{"field":"g","type":"nominal","scale":{"domain":["Absent","Present"],"range":["#2a5db0","#ff2b2b"]},"legend":null}},
   "layer":[
    {"transform":[{"filter":"datum.t>0"}],"mark":{"type":"text","fontSize":7.2}},
    {"transform":[{"filter":"datum.t==0"}],"mark":{"type":"text","fontSize":7.2,"align":"left","dx":5}}
   ]}
 ],"spacing":38,"bounds":"flush","resolve":{"scale":{"color":"independent"},"legend":{"color":"independent"}}}
],"spacing":7,"resolve":{"scale":{"color":"independent","strokeDash":"independent"},"legend":{"color":"independent"}}},
{"hconcat":[
 {"vconcat":[
  {"width":320,"height":222,
   "title":{"text":"E","anchor":"start","frame":"group","dx":-30,"offset":-3,"fontSize":7.5,"baseline":"alphabetic"},
   "layer":[
    {"data":{"name":"cen"},"transform":[{"filter":"datum.p=='E'"}],"mark":{"type":"point","shape":"M-1,0H1M0,-1V1","size":30,"strokeWidth":0.9,"filled":false,"opacity":1},
     "encoding":{"x":{"field":"t","type":"quantitative","scale":{"domain":[0,50],"nice":false},"axis":{"values":[0,12,24,36,48],"title":"Time (months)","labelFontSize":7.5,"titleFontSize":7.5,"tickSize":3,"labelPadding":1,"titlePadding":1}},"y":{"field":"s","type":"quantitative","scale":{"domain":[0,1],"nice":false},"axis":{"values":[0,0.2,0.4,0.6,0.8,1],"format":".0%","title":"DFS","labelFontSize":7.5,"titleFontSize":7.5,"tickSize":3,"labelPadding":0.5,"titlePadding":0.5}},"color":{"field":"g","type":"nominal","scale":{"domain":["No","Yes"],"range":["#1f4e99","#f8251b"]},"legend":{"title":"PA-TACE","orient":"none","legendX":119,"legendY":-22,"direction":"horizontal","titleOrient":"left","symbolType":"M-1,0H1M0,-1V1","symbolSize":50,"symbolStrokeWidth":1.2,"symbolOpacity":1,"labelFontSize":6,"titleFontSize":7,"columnPadding":6,"titlePadding":5,"labelOffset":3}}}},
    {"data":{"name":"km"},"transform":[{"filter":"datum.p=='E'"}],"mark":{"type":"area","interpolate":"step-after","opacity":0.2},
     "encoding":{"x":{"field":"t","type":"quantitative"},"y":{"field":"lo","type":"quantitative"},"y2":{"field":"hi"},"color":{"field":"g","type":"nominal"}}},
    {"data":{"name":"km"},"transform":[{"filter":"datum.p=='E'"}],"mark":{"type":"line","interpolate":"step-after","strokeWidth":1.2},
     "encoding":{"x":{"field":"t","type":"quantitative"},"y":{"field":"s","type":"quantitative"},"color":{"field":"g","type":"nominal"},"strokeDash":{"field":"g","type":"nominal","scale":{"domain":["No","Yes"],"range":[[1,0],[3,2]]},"legend":null}}},
    {"data":{"values":[{"t":0.8,"s":0.035,"lab":"p = 0.047"}]},"mark":{"type":"text","align":"left","baseline":"middle","fontSize":8.6,"color":"#111"},"encoding":{"x":{"field":"t","type":"quantitative"},"y":{"field":"s","type":"quantitative"},"text":{"field":"lab"}}}
   ]},
  {"width":320,"height":28,
   "title":{"text":"Number at risk","anchor":"start","frame":"group","fontSize":10,"offset":1},
   "data":{"name":"risk"},"transform":[{"filter":"datum.p=='E'"}],
   "encoding":{"x":{"field":"t","type":"quantitative","scale":{"domain":[0,50],"nice":false},"axis":{"values":[0,12,24,36,48],"title":"Time (months)","labelFontSize":7.5,"titleFontSize":8.5,"tickSize":3,"labelPadding":1,"titlePadding":1}},
    "y":{"field":"g","type":"nominal","scale":{"type":"point","domain":["No","Yes"],"padding":0.67},"axis":{"title":null,"ticks":false,"labelExpr":"'▬'","labelFont":"DejaVu Sans","labelFontSize":10,"labelPadding":4,"labelColor":{"condition":{"test":"datum.value=='No'","value":"#1f4e99"},"value":"#f8251b"}}},
    "text":{"field":"n","type":"quantitative"},
    "color":{"field":"g","type":"nominal","scale":{"domain":["No","Yes"],"range":["#2a5db0","#ff2b2b"]},"legend":null}},
   "layer":[
    {"transform":[{"filter":"datum.t>0"}],"mark":{"type":"text","fontSize":7.2}},
    {"transform":[{"filter":"datum.t==0"}],"mark":{"type":"text","fontSize":7.2,"align":"left","dx":5}}
   ]}
 ],"spacing":38,"bounds":"flush","resolve":{"scale":{"color":"independent"},"legend":{"color":"independent"}}},
 {"vconcat":[
  {"width":320,"height":222,
   "title":{"text":"F","anchor":"start","frame":"group","dx":-29,"offset":-3,"fontSize":7.5,"baseline":"alphabetic"},
   "layer":[
    {"data":{"name":"cen"},"transform":[{"filter":"datum.p=='F'"}],"mark":{"type":"point","shape":"M-1,0H1M0,-1V1","size":30,"strokeWidth":0.9,"filled":false,"opacity":1},
     "encoding":{"x":{"field":"t","type":"quantitative","scale":{"domain":[0,50],"nice":false},"axis":{"values":[0,12,24,36,48],"title":"Time (months)","labelFontSize":7.5,"titleFontSize":7.5,"tickSize":3,"labelPadding":1,"titlePadding":1}},"y":{"field":"s","type":"quantitative","scale":{"domain":[0,1],"nice":false},"axis":{"values":[0,0.2,0.4,0.6,0.8,1],"format":".0%","title":"OS","labelFontSize":7.5,"titleFontSize":7.5,"tickSize":3,"labelPadding":0.5,"titlePadding":0.5}},"color":{"field":"g","type":"nominal","scale":{"domain":["No","Yes"],"range":["#1f4e99","#f8251b"]},"legend":{"title":"PA-TACE","orient":"none","legendX":119,"legendY":-22,"direction":"horizontal","titleOrient":"left","symbolType":"M-1,0H1M0,-1V1","symbolSize":50,"symbolStrokeWidth":1.2,"symbolOpacity":1,"labelFontSize":6,"titleFontSize":7,"columnPadding":6,"titlePadding":5,"labelOffset":3}}}},
    {"data":{"name":"km"},"transform":[{"filter":"datum.p=='F'"}],"mark":{"type":"area","interpolate":"step-after","opacity":0.2},
     "encoding":{"x":{"field":"t","type":"quantitative"},"y":{"field":"lo","type":"quantitative"},"y2":{"field":"hi"},"color":{"field":"g","type":"nominal"}}},
    {"data":{"name":"km"},"transform":[{"filter":"datum.p=='F'"}],"mark":{"type":"line","interpolate":"step-after","strokeWidth":1.2},
     "encoding":{"x":{"field":"t","type":"quantitative"},"y":{"field":"s","type":"quantitative"},"color":{"field":"g","type":"nominal"},"strokeDash":{"field":"g","type":"nominal","scale":{"domain":["No","Yes"],"range":[[1,0],[3,2]]},"legend":null}}},
    {"data":{"values":[{"t":0.8,"s":0.035,"lab":"p = 0.001"}]},"mark":{"type":"text","align":"left","baseline":"middle","fontSize":8.6,"color":"#111"},"encoding":{"x":{"field":"t","type":"quantitative"},"y":{"field":"s","type":"quantitative"},"text":{"field":"lab"}}}
   ]},
  {"width":320,"height":28,
   "title":{"text":"Number at risk","anchor":"start","frame":"group","fontSize":10,"offset":1},
   "data":{"name":"risk"},"transform":[{"filter":"datum.p=='F'"}],
   "encoding":{"x":{"field":"t","type":"quantitative","scale":{"domain":[0,50],"nice":false},"axis":{"values":[0,12,24,36,48],"title":"Time (months)","labelFontSize":7.5,"titleFontSize":8.5,"tickSize":3,"labelPadding":1,"titlePadding":1}},
    "y":{"field":"g","type":"nominal","scale":{"type":"point","domain":["No","Yes"],"padding":0.67},"axis":{"title":null,"ticks":false,"labelExpr":"'▬'","labelFont":"DejaVu Sans","labelFontSize":10,"labelPadding":4,"labelColor":{"condition":{"test":"datum.value=='No'","value":"#1f4e99"},"value":"#f8251b"}}},
    "text":{"field":"n","type":"quantitative"},
    "color":{"field":"g","type":"nominal","scale":{"domain":["No","Yes"],"range":["#2a5db0","#ff2b2b"]},"legend":null}},
   "layer":[
    {"transform":[{"filter":"datum.t>0"}],"mark":{"type":"text","fontSize":7.2}},
    {"transform":[{"filter":"datum.t==0"}],"mark":{"type":"text","fontSize":7.2,"align":"left","dx":5}}
   ]}
 ],"spacing":38,"bounds":"flush","resolve":{"scale":{"color":"independent"},"legend":{"color":"independent"}}}
],"spacing":7,"resolve":{"scale":{"color":"independent","strokeDash":"independent"},"legend":{"color":"independent"}}}
]
}
